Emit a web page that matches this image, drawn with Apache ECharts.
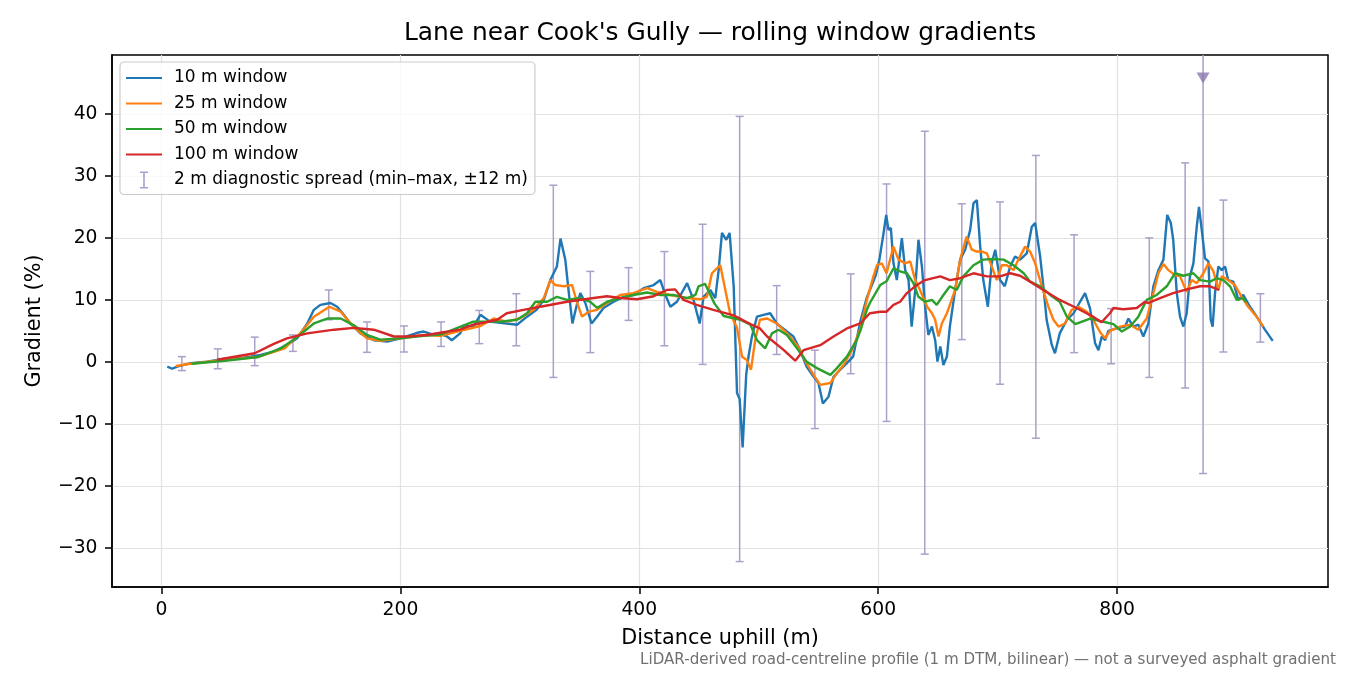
<!DOCTYPE html>
<html lang="en">
  <head>
    <meta charset="UTF-8" />
    <title>rolling window gradients</title>
    <script src="https://cdn.jsdelivr.net/npm/echarts@6/dist/echarts.min.js"></script>
    <style>
      body {
        margin: 0;
        padding: 0;
        background: #fff;
      }

      #main {
        width: 1350px;
        height: 675px;
      }
    </style>
  </head>

  <body>
    <div id="main"></div>
    <script>
      // [distance m, gradient %]
      const win10 = [
        [4.8, -0.75], [8.9, -1.1], [13.1, -0.75], [24.3, -0.2], [38.2, 0.05], [55, 0.6], [66, 0.6],
        [74.5, 0.86], [82.8, 1.13], [94, 1.67], [105, 2.74], [113.5, 3.8], [122, 6.2], [127.5, 8.4],
        [133, 9.2], [141.4, 9.5], [147, 8.9], [152.6, 7.6], [158, 6.2], [166.5, 4.6], [177.7, 3.5],
        [189, 3.3], [200, 3.8], [214, 4.7], [219.5, 4.9], [228, 4.35], [233.5, 4.5], [239, 4.1],
        [243, 3.5], [250, 4.6], [253, 5.9], [261, 5.7], [267, 7.6], [275, 6.5], [289, 6.2],
        [297.6, 6.0], [306, 7.3], [314, 8.4], [320, 10.0], [325.5, 13.2], [331, 15.4], [334, 19.9],
        [338, 16.5], [341, 11.1], [344, 6.2], [348, 9.5], [350.6, 11.1], [354.8, 9.5], [360, 6.2],
        [364.6, 7.3], [370, 8.7], [378.5, 9.7], [387, 10.5], [395, 10.8], [403.6, 11.9], [412, 12.4],
        [417.6, 13.2], [421.8, 10.8], [426, 8.9], [431.5, 9.7], [440, 12.7], [445.4, 10.0],
        [450.5, 6.2], [453.8, 10.5], [459.4, 11.6], [463.6, 10.3], [466.4, 14.8], [469.2, 20.8],
        [472.8, 19.7], [475.6, 20.8], [479, 12.2], [481.8, -5.0], [484, -6.0], [486.5, -13.8],
        [489.5, -2.0], [491.5, 1.0], [494.3, 4.1], [498.5, 7.3], [504, 7.6], [509.6, 7.85],
        [515, 6.2], [523.6, 4.9], [529, 4.1], [534.7, 1.9], [540, -0.75], [546, -2.4], [550, -3.4],
        [553.7, -6.7], [558.4, -5.6], [562.6, -2.4], [568, -1.3], [573.8, -0.2], [579, 0.85],
        [585, 6.5], [590.5, 10.4], [596, 13.0], [598, 14.0], [601, 16.5], [604.5, 20.8],
        [606.7, 23.7], [608.6, 21.3], [610.6, 21.6], [612.8, 15.9], [615.6, 13.2], [617.6, 16.5],
        [619.8, 19.95], [622.6, 14.8], [625.4, 13.2], [628, 5.7], [631, 11.6], [633.7, 19.7],
        [636.6, 15.4], [639.3, 8.9], [642, 4.35], [645, 5.7], [647.7, 3.5], [649.6, 0.05],
        [652, 2.5], [654.6, -0.5], [657.5, 0.85], [660, 5.7], [664.4, 11.6], [668.6, 16.5],
        [672.8, 18.1], [677, 21.3], [679.8, 25.6], [682.6, 26.1], [685.4, 18.6], [688, 13.2],
        [691.8, 8.9], [695, 15.9], [698, 18.1], [702, 13.2], [706, 12.2], [710.5, 15.4],
        [714.6, 17.0], [718.8, 16.5], [724.4, 17.5], [728.6, 21.8], [731.4, 22.4], [735.6, 17.0],
        [738.3, 12.2], [741, 6.8], [745.4, 2.7], [748, 1.4], [752, 4.6], [758, 6.8], [763.6, 7.85],
        [769, 9.7], [773.2, 11.1], [777.4, 8.6], [781.6, 3.0], [784.4, 1.9], [787.2, 4.1],
        [790, 3.5], [792.7, 5.0], [799.8, 5.4], [806.7, 5.7], [809.5, 7.0], [813.7, 5.7],
        [817.8, 6.0], [822, 4.1], [826.2, 6.2], [830.4, 12.2], [834.6, 14.8], [838.8, 16.5],
        [842, 23.7], [845, 22.4], [847, 19.7], [850, 11.1], [852.7, 7.3], [855.5, 5.7],
        [858.3, 7.85], [861, 13.8], [863.9, 15.9], [866.7, 21.8], [868.6, 25.0], [870.9, 21.3],
        [873.6, 16.7], [876.5, 16.2], [878.4, 6.8], [880, 5.7], [882, 11.1], [884.8, 15.4],
        [887.6, 14.8], [890.4, 15.4], [893, 13.2], [897.3, 12.95], [901.5, 10.0], [905.6, 10.8],
        [911.3, 8.9], [916.9, 7.3], [923.8, 5.2], [930.3, 3.4]
      ];

      const win25 = [
        [12, -0.65], [24.3, -0.3], [53, 0.35], [81, 0.8], [103, 2.2], [116, 4.6], [127.5, 7.3],
        [140.5, 8.9], [150, 8.1], [161, 5.6], [172, 3.8], [183, 3.4], [200, 3.8], [219.5, 4.35],
        [233.5, 4.2], [250, 5.0], [267, 5.8], [278, 7.0], [289, 6.5], [300, 7.0], [311.5, 8.4],
        [320, 10.3], [325.5, 13.2], [329.7, 12.4], [336.7, 12.2], [343.7, 12.4], [348, 9.5],
        [352, 7.3], [357.6, 8.1], [364.6, 8.4], [373, 9.5], [384, 10.8], [395, 11.1], [406.4, 11.9],
        [414.8, 11.3], [426, 10.8], [440, 10.3], [451, 10.1], [456.6, 10.5], [460.8, 14.3],
        [467.8, 15.6], [472, 11.6], [476, 7.85], [481.8, 5.5], [486, 0.85], [490, 0.3],
        [493.5, -1.25], [497, 3.5], [501, 6.8], [507, 7.0], [515, 6.2], [523.6, 4.6], [532, 2.7],
        [540, -0.2], [547, -2.4], [551.5, -3.7], [560, -3.4], [565.4, -1.8], [571, -0.5],
        [578, 1.9], [585, 5.3], [590.5, 10.0], [596, 13.8], [599, 15.6], [603, 15.9], [607, 14.3],
        [612.8, 18.6], [617, 16.5], [622.6, 15.9], [626.8, 16.2], [631, 13.2], [635, 11.6],
        [641, 8.9], [645, 7.85], [647.7, 6.8], [650.5, 4.1], [653.3, 6.2], [657.5, 7.85],
        [660, 9.2], [664.4, 11.6], [668.6, 16.5], [674, 20.2], [678.4, 18.1], [682.6, 17.8],
        [686.8, 17.8], [691, 17.5], [695, 15.4], [699.3, 13.2], [703.5, 15.6], [707.7, 15.6],
        [713.3, 14.8], [717.4, 16.5], [723, 18.6], [727.2, 17.8], [731.4, 15.9], [737, 12.2],
        [742.5, 8.9], [746.7, 6.8], [751, 5.7], [756.5, 6.2], [762, 8.4], [767.6, 8.9],
        [774.6, 8.1], [780, 6.8], [785.8, 4.8], [790, 3.8], [794, 5.0], [802.5, 5.7], [811, 6.0],
        [817.8, 5.2], [824.8, 7.0], [830.4, 11.1], [834.6, 14.3], [838.8, 15.8], [843, 14.8],
        [848.5, 14.0], [852.7, 13.8], [858.3, 11.3], [862.5, 13.2], [866.7, 12.7], [872.3, 14.3],
        [876.5, 15.9], [880.7, 14.6], [884.8, 11.6], [887.6, 13.8], [893, 13.2], [898.7, 12.4],
        [904.3, 10.5], [909.8, 8.9], [916.9, 7.3], [922.4, 5.7]
      ];

      const win50 = [
        [25, -0.3], [53, 0.2], [81, 0.8], [100, 2.2], [113.5, 4.0], [127.5, 6.2], [138.7, 7.0],
        [150, 7.0], [161, 5.9], [172, 4.35], [183, 3.6], [200, 3.8], [219.5, 4.2], [233.5, 4.4],
        [261, 6.5], [283.7, 6.5], [297.6, 6.8], [306, 7.85], [313, 9.7], [322.8, 9.7], [331, 10.5],
        [339.5, 10.0], [350.6, 10.3], [359, 9.7], [364.6, 8.7], [373, 9.7], [384, 10.3],
        [395, 10.8], [406.4, 11.2], [417.6, 10.8], [428.7, 10.8], [440, 10.3], [447, 10.8],
        [449.6, 12.2], [455, 12.6], [463, 9.4], [470.6, 7.4], [484.5, 6.8], [493, 6.0],
        [498.5, 3.5], [505.4, 2.2], [511, 4.6], [516.6, 5.2], [523.6, 4.35], [532, 2.2], [540, 0.05],
        [548.7, -1.0], [560, -2.1], [565.4, -1.0], [573.8, 0.85], [582, 3.5], [585, 5.0],
        [590.5, 8.4], [593, 9.5], [601.7, 12.4], [607, 13.0], [612.8, 15.1], [618.4, 14.6],
        [624, 14.3], [629.5, 12.7], [633.7, 10.5], [639.3, 9.7], [645, 10.0], [649, 9.2],
        [654.6, 10.8], [660, 12.2], [665.7, 11.6], [671.3, 13.8], [679.8, 15.6], [688, 16.5],
        [696.5, 16.6], [705, 16.5], [713.3, 15.6], [721.8, 14.3], [727.2, 12.95], [735.6, 12.2],
        [744, 10.8], [752, 9.7], [758, 7.3], [765, 6.1], [774.6, 6.8], [777.4, 7.0], [785.8, 6.6],
        [797, 6.1], [804, 4.9], [811, 5.7], [817.8, 7.3], [824.8, 10.0], [833.2, 10.8],
        [841.6, 12.2], [848.5, 14.3], [855.5, 13.9], [863.9, 14.3], [869.5, 13.2], [877.8, 12.95],
        [883.4, 13.5], [889, 13.2], [894.6, 12.2], [900.2, 10.0], [905.6, 10.3], [908, 9.6]
      ];

      const win100 = [
        [46.6, 0.35], [78, 1.4], [94, 2.9], [105, 3.8], [122, 4.6], [144.5, 5.2], [161, 5.5],
        [177.7, 5.2], [194.5, 4.1], [206, 4.1], [222, 4.35], [233.5, 4.7], [250, 5.2], [261, 6.0],
        [281, 6.8], [289, 7.85], [303, 8.4], [317, 8.9], [339.5, 9.7], [361.8, 10.3], [373, 10.6],
        [384, 10.3], [398, 10.1], [412, 10.6], [423, 11.6], [430, 11.7], [437, 10.0], [448, 9.2],
        [462, 8.4], [479, 7.5], [493, 6.1], [501, 5.4], [507, 4.1], [521, 1.9], [530.5, 0.2],
        [537.5, 1.9], [551.5, 2.7], [562.6, 4.1], [573.8, 5.4], [585, 6.2], [593, 7.85],
        [601.7, 8.1], [607, 8.1], [612.8, 9.2], [618.4, 9.7], [624, 11.1], [632.4, 12.4],
        [639.3, 13.2], [652, 13.8], [660, 13.2], [668.6, 13.5], [679.8, 14.3], [691, 13.8],
        [702, 13.8], [710.5, 14.3], [718.8, 13.9], [727.2, 12.95], [738.3, 11.6], [752, 10.0],
        [766, 8.7], [780, 7.3], [787, 6.4], [794, 7.85], [797, 8.7], [805.3, 8.5], [816.5, 8.7],
        [823.4, 9.7], [826.2, 9.5], [836, 10.3], [847, 11.1], [858.3, 11.7], [869.5, 12.2],
        [877.8, 12.2], [885.6, 11.6]
      ];

      // 2 m diagnostic spread: [distance, min, max]
      const spread = [
        [17, -1.4, 0.85], [47, -1.1, 2.1], [78, -0.6, 4.0], [110, 1.7, 4.35], [140, 6.8, 11.6],
        [172, 1.55, 6.45], [203, 1.6, 5.8], [234, 2.5, 6.45], [266, 2.95, 8.3], [297, 2.6, 11.0],
        [328, -2.5, 28.5], [359, 1.5, 14.6], [391, 6.7, 15.2], [421, 2.6, 17.8], [453, -0.4, 22.2],
        [484, -32.2, 39.6], [515, 1.2, 12.3], [547, -10.75, 1.9], [577, -1.9, 14.2],
        [607, -9.6, 28.7], [639, -31, 37.2], [670, 3.6, 25.5], [702, -3.6, 25.8],
        [732, -12.3, 33.3], [764, 1.5, 20.5], [795, -0.3, 8.6], [827, -2.5, 20.0],
        [857, -4.2, 32.1], [872, -18, 60], [889, 1.6, 26.1], [920, 3.2, 11.0]
      ];
      // spread that runs off the top of the plot, flagged with a marker
      const offScale = [[872, 45.8]];

      const xTicks = [0, 200, 400, 600, 800];
      const yTicks = [-30, -20, -10, 0, 10, 20, 30, 40];

      const FONT = "DejaVu Sans";
      const spreadName = "2 m diagnostic spread (min\u2013max, \u00b112 m)";
      const barColor = "#ac9fc9";
      const lineIcon = "path://M0,0H36V2.2H0Z";
      const barIcon = "path://M0,0H8V1.6H4.8V15.4H8V17H0V15.4H3.2V1.6H0Z";

      const chart = echarts.init(document.getElementById("main"), null, {
        renderer: "canvas",
      });

      const lineSeries = (name, data, color, z) => ({
        name,
        type: "line",
        data,
        z,
        symbol: "none",
        showSymbol: false,
        clip: true,
        lineStyle: { color, width: 2.4 },
        itemStyle: { color },
      });

      const minusFmt = (v) => (v < 0 ? "\u2212" + Math.abs(v) : String(v));

      const option = {
        animation: false,
        backgroundColor: "#fff",
        grid: {
          left: 112,
          right: 22,
          top: 55,
          bottom: 88,
          show: true,
          borderColor: "#000",
          borderWidth: 1.5,
          backgroundColor: "transparent",
        },
        legend: {
          orient: "vertical",
          left: 120,
          top: 62,
          itemWidth: 36,
          itemHeight: 17,
          itemGap: 8.5,
          padding: [7.5, 7, 6, 6],
          backgroundColor: "rgba(255,255,255,0.8)",
          borderColor: "#cccccc",
          borderWidth: 1.2,
          borderRadius: 4,
          selectedMode: false,
          textStyle: {
            fontFamily: FONT,
            fontSize: 17,
            lineHeight: 17,
            color: "#000",
            padding: [0, 0, 0, 7],
          },
          data: [
            { name: "10 m window", icon: lineIcon },
            { name: "25 m window", icon: lineIcon },
            { name: "50 m window", icon: lineIcon },
            { name: "100 m window", icon: lineIcon },
            { name: spreadName, icon: barIcon },
          ],
        },
        xAxis: {
          type: "value",
          min: -41.5,
          max: 976.6,
          name: "Distance uphill (m)",
          nameLocation: "middle",
          nameGap: 41,
          nameTextStyle: { fontFamily: FONT, fontSize: 20.8, color: "#000" },
          axisLine: { onZero: false, lineStyle: { color: "#000", width: 1.5 } },
          axisTick: {
            show: true,
            inside: false,
            length: 7,
            customValues: xTicks,
            lineStyle: { color: "#000", width: 1.5 },
          },
          axisLabel: {
            customValues: xTicks,
            margin: 14,
            fontFamily: FONT,
            fontSize: 18.75,
            color: "#000",
            formatter: minusFmt,
          },
          splitLine: { show: true, lineStyle: { color: "#e2e2e2", width: 1.2 } },
        },
        yAxis: {
          type: "value",
          min: -36.3,
          max: 49.5,
          name: "Gradient (%)",
          nameLocation: "middle",
          nameGap: 67,
          nameTextStyle: { fontFamily: FONT, fontSize: 20.8, color: "#000" },
          axisLine: { show: true, onZero: false, lineStyle: { color: "#000", width: 1.5 } },
          axisTick: {
            show: true,
            inside: false,
            length: 7,
            customValues: yTicks,
            lineStyle: { color: "#000", width: 1.5 },
          },
          axisLabel: {
            customValues: yTicks,
            margin: 14.5,
            fontFamily: FONT,
            fontSize: 18.75,
            color: "#000",
            formatter: minusFmt,
          },
          splitLine: { show: true, lineStyle: { color: "#e2e2e2", width: 1.2 } },
        },
        series: [
          {
            name: spreadName,
            type: "custom",
            data: spread,
            z: 1,
            clip: true,
            itemStyle: { color: barColor },
            renderItem: (params, api) => {
              const x = api.value(0);
              const lo = api.coord([x, api.value(1)]);
              const hi = api.coord([x, api.value(2)]);
              const style = { stroke: barColor, lineWidth: 1.5 };
              const cap = 4;
              return {
                type: "group",
                children: [
                  { type: "line", shape: { x1: lo[0], y1: lo[1], x2: hi[0], y2: hi[1] }, style },
                  { type: "line", shape: { x1: lo[0] - cap, y1: lo[1], x2: lo[0] + cap, y2: lo[1] }, style },
                  { type: "line", shape: { x1: hi[0] - cap, y1: hi[1], x2: hi[0] + cap, y2: hi[1] }, style },
                ],
              };
            },
          },
          lineSeries("10 m window", win10, "#1f77b4", 2),
          lineSeries("25 m window", win25, "#ff7f0e", 3),
          lineSeries("50 m window", win50, "#2ca02c", 4),
          lineSeries("100 m window", win100, "#d62728", 5),
          {
            name: "off-scale",
            type: "scatter",
            data: offScale,
            z: 6,
            symbol: "triangle",
            symbolRotate: 180,
            symbolSize: [13, 11],
            itemStyle: { color: "#8a77ad" },
          },
        ],
        graphic: [
          {
            type: "text",
            x: 720,
            y: 34,
            style: {
              text: "Lane near Cook's Gully \u2014 rolling window gradients",
              fontFamily: FONT,
              fontSize: 24.9,
              fill: "#000",
              align: "center",
              verticalAlign: "middle",
            },
          },
          {
            type: "text",
            x: 1336,
            y: 660,
            style: {
              text: "LiDAR-derived road-centreline profile (1 m DTM, bilinear) \u2014 not a surveyed asphalt gradient",
              fontFamily: FONT,
              fontSize: 15.1,
              fill: "#707070",
              align: "right",
              verticalAlign: "middle",
            },
          },
        ],
      };

      chart.setOption(option);
    </script>
  </body>
</html>
